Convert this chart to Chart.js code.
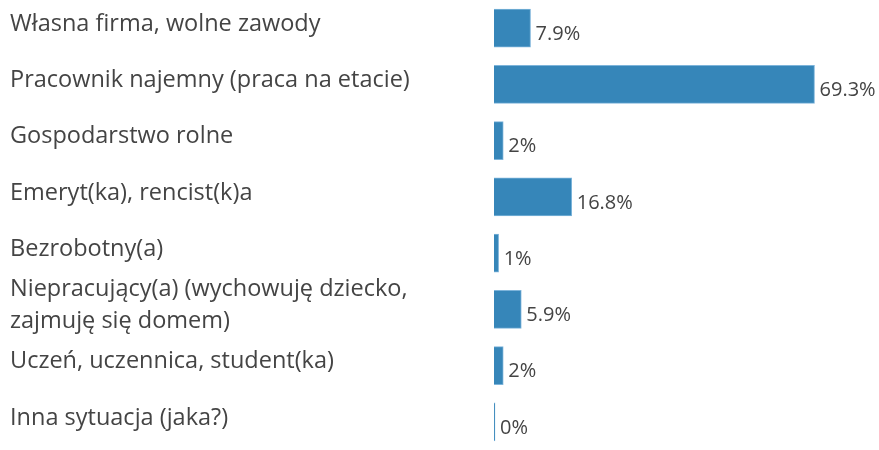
<!DOCTYPE html>
<html lang="pl">
<head>
<meta charset="utf-8">
<title>Sytuacja zawodowa</title>
<script src="https://cdn.jsdelivr.net/npm/chart.js@4.4.1/dist/chart.umd.min.js"></script>
<style>
    html, body { margin: 0; padding: 0; background: #fff; }
    .chart-box { position: relative; width: 879px; height: 450px; }
</style>
</head>
<body>
<div class="chart-box">
    <canvas id="chart"></canvas>
</div>
<script>
// Data
const categories = [
    'Własna firma, wolne zawody',
    'Pracownik najemny (praca na etacie)',
    'Gospodarstwo rolne',
    'Emeryt(ka), rencist(k)a',
    'Bezrobotny(a)',
    ['Niepracujący(a) (wychowuję dziecko,', 'zajmuję się domem)'],
    'Uczeń, uczennica, student(ka)',
    'Inna sytuacja (jaka?)'
];
const values = [7.9, 69.3, 2, 16.8, 1, 5.9, 2, 0];
const valueLabels = ['7.9%', '69.3%', '2%', '16.8%', '1%', '5.9%', '2%', '0%'];

const textColor = '#444444';
const barColor = '#3686b9';

// Draws the percentage next to each bar
const valueLabelPlugin = {
    id: 'valueLabels',
    afterDatasetsDraw(chart) {
        const ctx = chart.ctx;
        const meta = chart.getDatasetMeta(0);
        ctx.save();
        ctx.font = '20px "Open Sans", sans-serif';
        ctx.fillStyle = textColor;
        ctx.textAlign = 'left';
        ctx.textBaseline = 'middle';
        meta.data.forEach((bar, i) => {
            ctx.fillText(valueLabels[i], bar.x + 5, bar.y + 6);
        });
        ctx.restore();
    }
};

new Chart(document.getElementById('chart'), {
    type: 'bar',
    data: {
        labels: categories,
        datasets: [{
            data: values,
            backgroundColor: barColor,
            borderColor: '#7db4da',
            borderWidth: 1,
            barThickness: 38,
            minBarLength: 1
        }]
    },
    options: {
        indexAxis: 'y',
        responsive: true,
        maintainAspectRatio: false,
        animation: false,
        layout: { padding: { left: 10, right: 15, top: 0, bottom: 0 } },
        scales: {
            x: {
                display: false,
                min: 0,
                max: 80
            },
            y: {
                grid: { display: false },
                border: { display: false },
                ticks: {
                    autoSkip: false,
                    crossAlign: 'far',
                    color: textColor,
                    font: { family: '"Open Sans", sans-serif', size: 23.5, lineHeight: 1.36 },
                    padding: 0,
                    labelOffset: -4
                },
                afterFit(scale) {
                    scale.width = 484;
                    // let the rows use the full height
                    scale.paddingTop = 0;
                    scale.paddingBottom = 0;
                }
            }
        },
        plugins: {
            legend: { display: false },
            tooltip: { enabled: false }
        }
    },
    plugins: [valueLabelPlugin]
});
</script>
</body>
</html>
